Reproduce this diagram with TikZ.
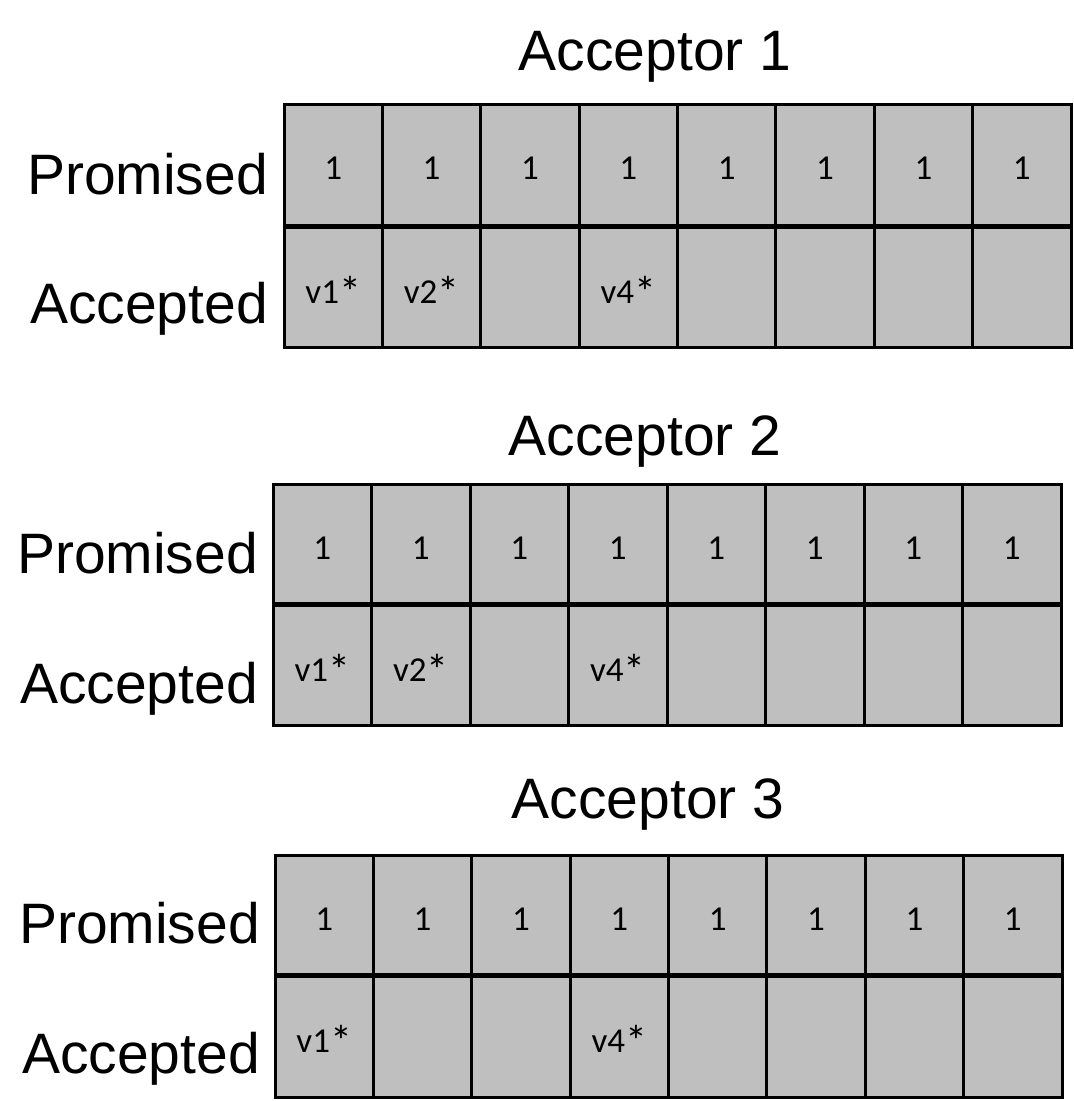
\documentclass[tikz,border=0pt]{standalone}
\usepackage{fontspec}
\setmainfont{Liberation Sans}
\newfontfamily\cellfont{Carlito}
\definecolor{cellgray}{RGB}{191,191,191}
\newcommand\cellstar{\raisebox{-4pt}{\fontsize{44}{44}\selectfont *}}
\tikzset{
  gridline/.style={draw=black, line width=3pt},
  midline/.style={draw=black, line width=5pt},
  celltext/.style={anchor=base, inner sep=0pt, font=\cellfont\fontsize{35}{40}\selectfont},
  bigtext/.style={inner sep=0pt, font=\fontsize{57}{64}\selectfont},
}
% #1 name, #2 left, #3 right, #4 top, #5 mid, #6 bottom, #7 accepted list
\newcommand\drawgrid[7]{%
  \fill[cellgray] (#2,#4) rectangle (#3,#6);
  \pgfmathsetmacro\cw{(#3-#2)/8}
  \foreach \i in {1,...,7}{\draw[gridline] ({#2+\i*\cw},#4) -- ({#2+\i*\cw},#6);}
  \draw[midline] (#2,#5) -- (#3,#5);
  \draw[gridline] (#2,#4) rectangle (#3,#6);
  \foreach \i in {1,...,8}{\node[celltext] (#1-p\i) at ({#2+(\i-0.5)*\cw},{#4+75}) {1};}
  \foreach \i/\t in {#7}{\node[celltext] (#1-a\i) at ({#2+(\i-0.5)*\cw},{#5+77}) {v\t\cellstar};}
}
\begin{document}
\begin{tikzpicture}[x=1pt,y=-1pt]
\useasboundingbox (0,0) rectangle (1074,1101);
% Acceptor 1
\node[bigtext, anchor=base] (t1) at (655,70) {Acceptor 1};
\node[bigtext, anchor=base east] (p1) at (268,194) {Promised};
\node[bigtext, anchor=base east] (c1) at (268,323) {Accepted};
\drawgrid{g1}{284}{1071}{104}{226}{347}{1/1,2/2,4/4}
% Acceptor 2
\node[bigtext, anchor=base] (t2) at (645,455) {Acceptor 2};
\node[bigtext, anchor=base east] (p2) at (258,573) {Promised};
\node[bigtext, anchor=base east] (c2) at (258,703) {Accepted};
\drawgrid{g2}{273}{1061}{484}{604}{725}{1/1,2/2,4/4}
% Acceptor 3
\node[bigtext, anchor=base] (t3) at (648,818) {Acceptor 3};
\node[bigtext, anchor=base east] (p3) at (260,943) {Promised};
\node[bigtext, anchor=base east] (c3) at (260,1073) {Accepted};
\drawgrid{g3}{275}{1062}{855}{975}{1097}{1/1,4/4}
\end{tikzpicture}
\end{document}
